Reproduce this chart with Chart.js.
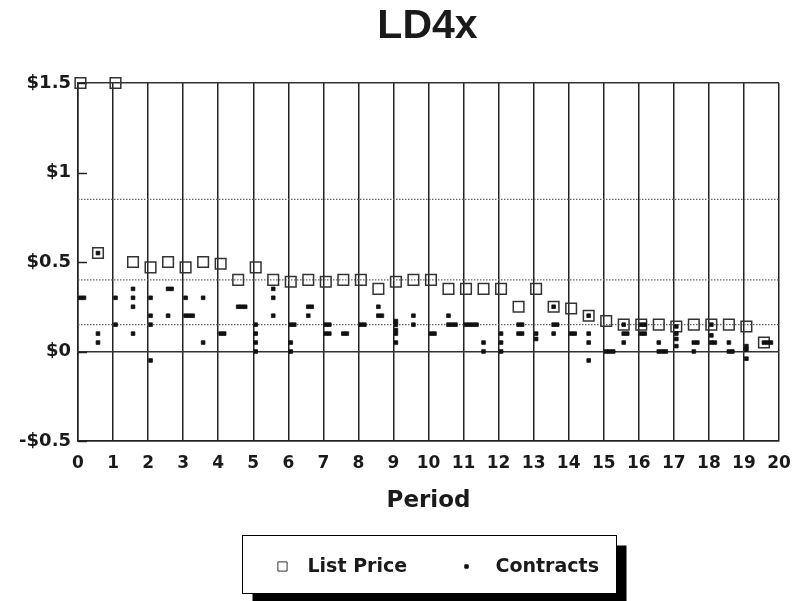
<!DOCTYPE html>
<html>
<head>
<meta charset="utf-8">
<title>LD4x</title>
<script src="https://cdn.jsdelivr.net/npm/chart.js@4/dist/chart.umd.min.js"></script>
<style>
  html, body { margin: 0; padding: 0; background: #fff; }
  #wrap { width: 793px; height: 601px; }
</style>
</head>
<body>
<div id="wrap"><canvas id="c" width="793" height="601"></canvas></div>
<script>
// ---- data -------------------------------------------------------------
const chartTitle = 'LD4x';
const xAxisTitle = 'Period';
const seriesNames = ['List Price', 'Contracts'];

// two price points per period
const listPeriods = [
  0.07, 0.57, 1.07, 1.57, 2.07, 2.57, 3.07, 3.57, 4.07, 4.57,
  5.07, 5.57, 6.07, 6.57, 7.07, 7.57, 8.07, 8.57, 9.07, 9.57,
  10.07, 10.57, 11.07, 11.57, 12.07, 12.57, 13.07, 13.57, 14.07, 14.57,
  15.07, 15.57, 16.07, 16.57, 17.07, 17.57, 18.07, 18.57, 19.07, 19.57
];
const listPrices = [
  1.50, 0.55, 1.50, 0.50, 0.47, 0.50, 0.47, 0.50, 0.49, 0.40,
  0.47, 0.40, 0.39, 0.40, 0.39, 0.40, 0.40, 0.35, 0.39, 0.40,
  0.40, 0.35, 0.35, 0.35, 0.35, 0.25, 0.35, 0.25, 0.24, 0.20,
  0.17, 0.15, 0.15, 0.15, 0.14, 0.15, 0.15, 0.15, 0.14, 0.05
];
// contract prices struck at each list-price slot
const contractPrices = [
  [0.30, 0.30],
  [0.55, 0.10, 0.05],
  [0.30, 0.15],
  [0.35, 0.30, 0.25, 0.10],
  [0.30, 0.20, 0.15, -0.05],
  [0.35, 0.35, 0.20],
  [0.30, 0.20, 0.20, 0.20],
  [0.30, 0.05],
  [0.10, 0.10],
  [0.25, 0.25, 0.25],
  [0.15, 0.10, 0.05, 0.00],
  [0.35, 0.30, 0.20],
  [0.15, 0.15, 0.05, 0.00],
  [0.25, 0.25, 0.20],
  [0.15, 0.15, 0.10, 0.10],
  [0.10, 0.10],
  [0.15, 0.15],
  [0.25, 0.20, 0.20],
  [0.17, 0.15, 0.12, 0.10, 0.05],
  [0.20, 0.15],
  [0.10, 0.10],
  [0.20, 0.15, 0.15, 0.15],
  [0.15, 0.15, 0.15, 0.15],
  [0.05, 0.00],
  [0.10, 0.05, 0.00],
  [0.15, 0.15, 0.10, 0.10],
  [0.10, 0.07],
  [0.25, 0.15, 0.15, 0.10],
  [0.10, 0.10],
  [0.20, 0.10, 0.05, -0.05],
  [0.00, 0.00, 0.00],
  [0.15, 0.10, 0.10, 0.05],
  [0.15, 0.15, 0.10, 0.10],
  [0.05, 0.00, 0.00, 0.00],
  [0.14, 0.10, 0.07, 0.03],
  [0.05, 0.05, 0.00],
  [0.15, 0.09, 0.05, 0.05],
  [0.05, 0.00, 0.00],
  [0.03, 0.01, -0.04],
  [0.05, 0.05, 0.05]
];
const referenceLevels = [0.85, 0.40, 0.15];
const xTicks = [0,1,2,3,4,5,6,7,8,9,10,11,12,13,14,15,16,17,18,19,20];
const yTicks = [-0.5, 0, 0.5, 1, 1.5];

// ---- build datasets ----------------------------------------------------
const listPoints = listPeriods.map((x, i) => ({ x: x, y: listPrices[i] }));

// identical prices in one slot are spread sideways so each stays visible
const JITTER = 0.1;
const contractPoints = [];
contractPrices.forEach((group, i) => {
  const seen = {};
  group.forEach(p => {
    const key = p.toFixed(2);
    const n = seen[key] || 0;
    seen[key] = n + 1;
    contractPoints.push({ x: listPeriods[i] + n * JITTER, y: p });
  });
});

const xMin = xTicks[0], xMax = xTicks[xTicks.length - 1];
const refDatasets = referenceLevels.map(v => ({
  type: 'line',
  label: 'ref ' + v,
  data: [{ x: xMin, y: v }, { x: xMax, y: v }],
  borderColor: '#666',
  borderWidth: 1.1,
  borderDash: [1.5, 1.5],
  pointRadius: 0,
  fill: false,
  order: 3
}));

const FONT = '"DejaVu Sans", "Liberation Sans", sans-serif';
const ink = '#1a1a1a';

const listStyle = { pointStyle: 'rect', radius: 7.5, borderWidth: 1.5, borderColor: '#333', backgroundColor: 'rgba(0,0,0,0)' };
const contractStyle = { pointStyle: 'rect', radius: 2.6, borderWidth: 0.8, borderColor: '#111', backgroundColor: '#111' };

// ---- decorations: title, inner y ticks, framed legend ------------------
const decorations = {
  id: 'decorations',
  beforeDatasetsDraw(chart) {
    const { ctx, chartArea, scales } = chart;
    ctx.save();
    ctx.strokeStyle = '#222';
    ctx.lineWidth = 1.5;
    yTicks.forEach(v => {
      const y = Math.round(scales.y.getPixelForValue(v)) + 0.5;
      ctx.beginPath();
      ctx.moveTo(chartArea.left, y);
      ctx.lineTo(chartArea.left + 9, y);
      ctx.stroke();
    });
    ctx.restore();
  },
  afterDraw(chart) {
    const { ctx, chartArea } = chart;
    const cx = (chartArea.left + chartArea.right) / 2;
    ctx.save();
    // title
    ctx.fillStyle = ink;
    ctx.font = 'bold 41px "Liberation Sans", Arial, sans-serif';
    ctx.textAlign = 'center';
    ctx.textBaseline = 'alphabetic';
    ctx.fillText(chartTitle, cx - 1, 38);

    // legend frame with drop shadow
    const w = 374, h = 58, shadow = 10;
    const lx = Math.round(cx - w / 2) + 0.5, ly = 535.5;
    ctx.fillStyle = '#000';
    ctx.fillRect(lx + shadow, ly + shadow, w, h);
    ctx.fillStyle = '#fff';
    ctx.fillRect(lx, ly, w, h);
    ctx.strokeStyle = '#000';
    ctx.lineWidth = 1;
    ctx.strokeRect(lx, ly, w, h);

    const my = ly + 31;
    ctx.font = 'bold 19px ' + FONT;
    ctx.textAlign = 'left';
    ctx.textBaseline = 'middle';
    // hollow marker for list price
    ctx.fillStyle = '#fff';
    ctx.strokeStyle = '#333';
    Chart.helpers.drawPoint(ctx, { pointStyle: 'rect', radius: 6.5, borderWidth: 1.3 }, lx + 40, my);
    ctx.fillStyle = ink;
    ctx.fillText(seriesNames[0], lx + 65, my + 1);
    // solid marker for contracts
    ctx.fillStyle = '#111';
    ctx.strokeStyle = '#111';
    Chart.helpers.drawPoint(ctx, { pointStyle: 'rect', radius: 2.4, borderWidth: 0.8 }, lx + 224, my);
    ctx.fillStyle = ink;
    ctx.fillText(seriesNames[1], lx + 253, my + 1);
    ctx.restore();
  }
};

// ---- chart --------------------------------------------------------------
new Chart(document.getElementById('c'), {
  type: 'scatter',
  data: {
    datasets: [
      {
        label: seriesNames[1],
        data: contractPoints,
        pointStyle: contractStyle.pointStyle,
        pointRadius: contractStyle.radius,
        pointBorderWidth: contractStyle.borderWidth,
        pointBorderColor: contractStyle.borderColor,
        pointBackgroundColor: contractStyle.backgroundColor,
        clip: false,
        order: 1
      },
      {
        label: seriesNames[0],
        data: listPoints,
        pointStyle: listStyle.pointStyle,
        pointRadius: listStyle.radius,
        pointBorderWidth: listStyle.borderWidth,
        pointBorderColor: listStyle.borderColor,
        pointBackgroundColor: listStyle.backgroundColor,
        clip: false,
        order: 2
      },
      ...refDatasets
    ]
  },
  options: {
    responsive: false,
    animation: false,
    events: [],
    layout: { padding: { top: 83, right: 14, bottom: 86, left: 0 } },
    plugins: {
      legend: { display: false },
      title: { display: false },
      tooltip: { enabled: false }
    },
    scales: {
      x: {
        type: 'linear',
        min: xMin,
        max: xMax,
        afterBuildTicks: s => { s.ticks = xTicks.map(v => ({ value: v })); },
        afterFit: s => { s.height = 74; s.paddingLeft = 0; s.paddingRight = 0; },
        grid: { color: '#222', lineWidth: 1.5, drawTicks: false },
        border: { display: true, color: '#222', width: 1.5 },
        ticks: {
          color: ink,
          padding: 12,
          maxRotation: 0,
          autoSkip: false,
          font: { family: FONT, weight: 'bold', size: 17 }
        },
        title: {
          display: true,
          text: xAxisTitle,
          color: ink,
          padding: 0,
          font: { family: FONT, weight: 'bold', size: 23 }
        }
      },
      y: {
        type: 'linear',
        min: yTicks[0],
        max: yTicks[yTicks.length - 1],
        afterBuildTicks: s => { s.ticks = yTicks.map(v => ({ value: v })); },
        afterFit: s => { s.width = 78; },
        grid: {
          drawTicks: false,
          lineWidth: 1.5,
          color: c => ([0, yTicks[0], yTicks[yTicks.length - 1]].includes(c.tick.value) ? '#333' : 'rgba(0,0,0,0)')
        },
        border: { display: true, color: '#222', width: 1.5 },
        ticks: {
          color: ink,
          padding: 7,
          font: { family: FONT, weight: 'bold', size: 18 },
          callback: v => (v < 0 ? '-' : '') + '$' + Math.abs(v)
        }
      }
    }
  },
  plugins: [decorations]
});
</script>
</body>
</html>
